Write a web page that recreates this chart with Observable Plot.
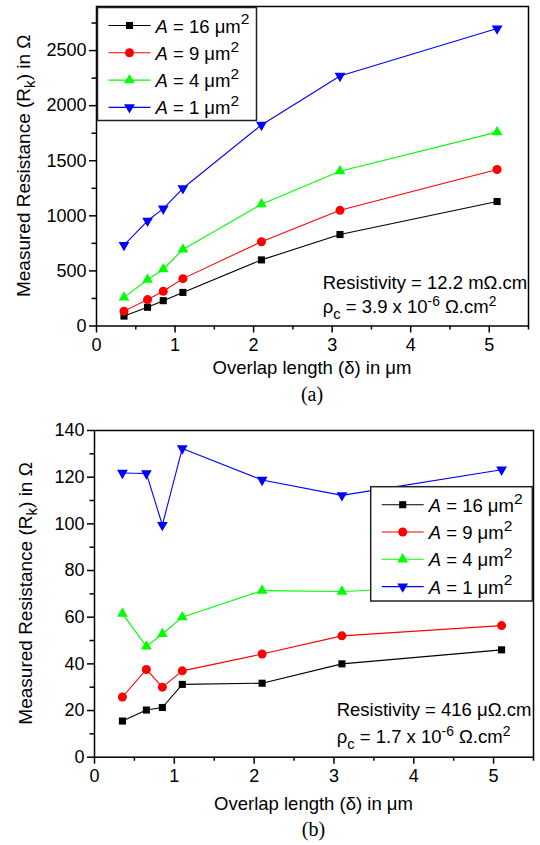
<!DOCTYPE html>
<html><head><meta charset="utf-8">
<script src="https://cdn.jsdelivr.net/npm/d3@7"></script>
<script src="https://cdn.jsdelivr.net/npm/@observablehq/plot@0.6"></script>
<style>
body{margin:0;background:#fff;width:540px;height:845px;overflow:hidden}
#a,#b{line-height:0}
</style>
</head><body><div id="a"></div><div id="b"></div>
<script>
// ---- data ----
const overlap = [0.35, 0.65, 0.85, 1.1, 2.1, 3.1, 5.1];
const areaLabels = ["16", "9", "4", "1"];
const seriesColors = ["#000000", "#ff0000", "#00ff00", "#0000ff"];

const resA16 = [90, 170, 230, 305, 600, 830, 1130];
const resA9  = [135, 240, 315, 430, 765, 1050, 1420];
const resA4  = [260, 420, 515, 695, 1105, 1405, 1760];
const resA1  = [735, 955, 1065, 1250, 1825, 2270, 2700];

const resB16 = [15.5, 20.2, 21.3, 31.2, 31.7, 40, 46];
const resB9  = [25.8, 37.6, 30, 37, 44.2, 52, 56.4];
const resB4  = [61.5, 47.5, 52.8, 60, 71.4, 71, 74];
const resB1  = [121.8, 121.6, 99.5, 132.3, 118.8, 112.2, 123.2];

const xTicks = [0, 1, 2, 3, 4, 5];
const xMinor = [0.5, 1.5, 2.5, 3.5, 4.5, 5.5];
const yTicksA = [0, 500, 1000, 1500, 2000, 2500];
const yMinorA = [250, 750, 1250, 1750, 2250, 2750];
const yTicksB = [0, 20, 40, 60, 80, 100, 120, 140];
const yMinorB = [10, 30, 50, 70, 90, 110, 130];

const noteA = ["12.2 m\u03A9.cm", "3.9"];
const noteB = ["416 \u03BC\u03A9.cm", "1.7"];

// ---- symbols ----
const sqrt3 = Math.sqrt(3);
const triangleDown = {
  draw(context, size) {
    const y = -Math.sqrt(size / (sqrt3 * 3));
    context.moveTo(0, -y * 2);
    context.lineTo(-sqrt3 * y, y);
    context.lineTo(sqrt3 * y, y);
    context.closePath();
  }
};
const symbols = [d3.symbolSquare, d3.symbolCircle, d3.symbolTriangle, triangleDown];
const radii = [4, 4.5, 4, 4];

const FONT = "'Liberation Sans', Arial, Helvetica, sans-serif";
const fmt = d => String(d);

function rich(parent, x, y, parts, size, anchor, transform, supScale, supShift) {
  const t = parent.append("text")
    .attr("font-family", FONT)
    .attr("font-size", size)
    .attr("fill", "#000")
    .attr("text-anchor", anchor || "start");
  if (transform) t.attr("transform", transform); else t.attr("x", x).attr("y", y);
  let cur = 0;
  for (const p of parts) {
    let shift = 0, fs = size;
    if (p.sup) { shift = -(supShift || 0.44) * size; fs = size * (supScale || 0.84); }
    if (p.sub) { shift = 0.3 * size; fs = size * 0.8; }
    const ts = t.append("tspan").text(p.t).attr("font-size", fs);
    if (shift !== cur) { ts.attr("dy", shift - cur); cur = shift; }
    if (p.italic) ts.attr("font-style", "italic");
  }
  return t;
}

function panel(cfg) {
  const series = cfg.values.map((vals, i) => vals.map((v, j) => ({x: overlap[j], y: v, s: i})));
  const marks = [
    Plot.axisX({ticks: xTicks, tickSize: 7, tickPadding: 5, label: null, strokeWidth: 1.5, fontSize: 18, tickFormat: fmt}),
    Plot.axisX({ticks: xMinor, tickSize: 4, tickFormat: () => "", label: null, strokeWidth: 1.5}),
    Plot.axisY({ticks: cfg.yTicks, tickSize: 7, tickPadding: 3, label: null, strokeWidth: 1.5, fontSize: 18, tickFormat: fmt}),
    Plot.axisY({ticks: cfg.yMinor, tickSize: 4.5, tickFormat: () => "", label: null, strokeWidth: 1.5})
  ];
  series.forEach((d, i) => {
    marks.push(Plot.line(d, {x: "x", y: "y", stroke: seriesColors[i], strokeWidth: 1.1}));
  });
  series.forEach((d, i) => {
    marks.push(Plot.dot(d, {x: "x", y: "y", fill: seriesColors[i], symbol: symbols[i], r: radii[i]}));
  });
  marks.push(Plot.frame({stroke: "#000", strokeWidth: 1.5}));

  const svg = Plot.plot({
    width: 540, height: cfg.height,
    marginLeft: cfg.ml, marginRight: cfg.mr, marginTop: cfg.mt, marginBottom: cfg.mb,
    x: {domain: [0, 5.5]},
    y: {domain: cfg.yDomain},
    style: {fontFamily: FONT, fontSize: "18px", color: "black", background: "white", overflow: "visible"},
    marks
  });
  const sel = d3.select(svg);
  const L = cfg.ml, R = 540 - cfg.mr, T = cfg.mt, B = cfg.height - cfg.mb;
  const cx = (L + R) / 2, cy = (T + B) / 2;

  // axis titles
  sel.append("text").attr("x", cx).attr("y", cfg.xTitleY).attr("text-anchor", "middle")
    .attr("font-family", FONT).attr("font-size", 18.5).attr("fill", "#000")
    .text("Overlap length (\u03B4) in \u03BCm");
  rich(sel, 0, 0, [
    {t: "Measured Resistance (R"}, {t: "k", sub: true}, {t: ") in \u03A9"}
  ], 19, "middle", `translate(${cfg.yTitleX},${cy}) rotate(-90)`);

  // caption (a)/(b)
  sel.append("text").attr("x", cx).attr("y", cfg.capY).attr("text-anchor", "middle")
    .attr("font-family", "'Liberation Serif', 'Times New Roman', serif").attr("font-size", 20).attr("fill", "#000")
    .text(cfg.caption);

  // annotation
  rich(sel, cfg.noteX, cfg.noteY1, [{t: "Resistivity = " + cfg.note[0]}], 18.5);
  rich(sel, cfg.noteX, cfg.noteY2, [
    {t: "\u03C1"}, {t: "c", sub: true}, {t: " = " + cfg.note[1] + " x 10"}, {t: "-6", sup: true},
    {t: " \u03A9.cm"}, {t: "2", sup: true}
  ], 18.5, "start", null, 0.75, 0.4);

  // legend
  const lg = sel.append("g").attr("transform", `translate(${cfg.lgX},${cfg.lgY})`);
  lg.append("rect").attr("x", 0).attr("y", 0).attr("width", cfg.lgW).attr("height", cfg.lgH)
    .attr("fill", "white").attr("stroke", "#222").attr("stroke-width", 1.5);
  areaLabels.forEach((a, i) => {
    const yy = 18 + i * 27.3;
    lg.append("line").attr("x1", 11).attr("x2", 53).attr("y1", yy).attr("y2", yy)
      .attr("stroke", seriesColors[i]).attr("stroke-width", 1.1);
    lg.append("path").attr("transform", `translate(32,${yy})`)
      .attr("d", d3.symbol().type(symbols[i]).size(radii[i] * radii[i] * Math.PI)())
      .attr("fill", seriesColors[i]);
    rich(lg, 58, yy + 7, [
      {t: "A", italic: true}, {t: " = " + a + " \u03BCm"}, {t: "2", sup: true}
    ], 18.5);
  });
  return svg;
}

document.getElementById("a").appendChild(panel({
  values: [resA16, resA9, resA4, resA1],
  height: 415, ml: 96, mr: 12, mt: 6, mb: 89.5,
  yDomain: [0, 2900], yTicks: yTicksA, yMinor: yMinorA,
  xTitleY: 374, yTitleX: 29.5, capY: 401, caption: "(a)",
  note: noteA, noteX: 322.7, noteY1: 288.5, noteY2: 313.3,
  lgX: 97.5, lgY: 7.5, lgW: 159, lgH: 113
}));
document.getElementById("b").appendChild(panel({
  values: [resB16, resB9, resB4, resB1],
  height: 430, ml: 94, mr: 7, mt: 15, mb: 88.3,
  yDomain: [0, 140], yTicks: yTicksB, yMinor: yMinorB,
  xTitleY: 395, yTitleX: 31.5, capY: 421, caption: "(b)",
  note: noteB, noteX: 336.7, noteY1: 300.7, noteY2: 328.3,
  lgX: 370.7, lgY: 71.7, lgW: 161.6, lgH: 114.3
}));
</script>
</body></html>
